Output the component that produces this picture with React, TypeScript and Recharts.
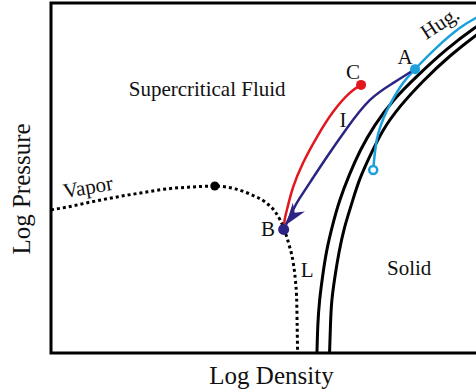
import React from 'react';
import { LineChart, Line, XAxis, YAxis, ReferenceArea, ReferenceDot } from 'recharts';

// readings, in arbitrary log units (0..10 on both axes)
const solidInner: [number, number][] = [
  [5.91, 0], [5.93, 0.8], [5.97, 1.51], [6.04, 2.23], [6.13, 2.94], [6.26, 3.66],
  [6.42, 4.37], [6.63, 5.09], [6.88, 5.8], [7.2, 6.51], [7.62, 7.23], [8.16, 7.94],
  [8.78, 8.66], [9.42, 9.29], [9.98, 9.77],
];
const solidOuter: [number, number][] = [
  [6.19, 0], [6.21, 0.78], [6.24, 1.48], [6.31, 2.18], [6.4, 2.87], [6.52, 3.57],
  [6.68, 4.26], [6.86, 4.96], [7.1, 5.66], [7.38, 6.36], [7.77, 7.06], [8.28, 7.78],
  [8.88, 8.5], [9.51, 9.14], [9.98, 9.57],
];
const hugoniot: [number, number][] = [
  [7.16, 5.23], [7.18, 5.51], [7.24, 6.09], [7.33, 6.51], [7.47, 6.94], [7.76, 7.6],
  [8.09, 8.11], [8.58, 8.74], [9.09, 9.29], [9.44, 9.57], [9.87, 9.86],
];
const pathBC: [number, number][] = [
  [5.16, 3.51], [5.2, 3.86], [5.27, 4.23], [5.38, 4.74], [5.6, 5.43], [5.91, 6.17],
  [6.27, 6.89], [6.64, 7.43], [6.89, 7.66],
];
const isentropeI: [number, number][] = [
  [5.22, 3.66], [5.38, 4.09], [5.53, 4.43], [5.82, 5.0], [6.13, 5.6], [6.58, 6.43],
  [7.09, 7.23], [7.6, 7.71], [8.09, 8.11],
];
const coexistence: [number, number][] = [
  [0, 4.09], [0.36, 4.17], [0.87, 4.31], [1.47, 4.46], [1.98, 4.57], [2.58, 4.69],
  [3.09, 4.74], [3.64, 4.77], [4.09, 4.69], [4.42, 4.54], [4.76, 4.31], [5.0, 4.0],
  [5.18, 3.54], [5.29, 3.09], [5.38, 2.6], [5.43, 2.09], [5.46, 1.51], [5.47, 0.8],
  [5.48, 0],
];

const pointA = { x: 8.09, y: 8.11 };
const pointB = { x: 5.17, y: 3.53 };
const pointC = { x: 6.89, y: 7.66 };
const criticalPoint = { x: 3.64, y: 4.77 };
const hugStart = { x: 7.16, y: 5.23 };

const labels = [
  { text: 'Supercritical Fluid', x: 3.47, y: 7.54 },
  { text: 'Vapor', x: 0.82, y: 4.74 },
  { text: 'C', x: 6.71, y: 8.03 },
  { text: 'A', x: 7.87, y: 8.46 },
  { text: 'I', x: 6.49, y: 6.66 },
  { text: 'Hug.', x: 8.64, y: 9.43 },
  { text: 'B', x: 4.82, y: 3.54 },
  { text: 'L', x: 5.69, y: 2.37 },
  { text: 'Solid', x: 7.96, y: 2.43 },
];
const labelAngle: Record<string, number> = { Vapor: -10, 'Hug.': -33 };

const toPoints = (pairs: [number, number][]) => pairs.map(([x, y]) => ({ x, y }));

const FONT = '"Liberation Serif", "Times New Roman", serif';
const RED = '#e3161d';
const PURPLE = '#2c2483';
const BLUE = '#1aa0dc';

// arrow head at the B end of the I path
const arrowDot = (props: any) => {
  const { cx, cy, index } = props;
  if (index !== 0) return <g key={index} />;
  return (
    <path
      key={index}
      d='M0,0 L-22,-7.5 L-15,0 L-22,7.5 Z'
      fill={PURPLE}
      transform={`translate(${cx},${cy}) rotate(126)`}
    />
  );
};

const textShape = (text: string) => (props: any) => {
  const angle = labelAngle[text] || 0;
  return (
    <text
      x={props.cx}
      y={props.cy}
      textAnchor='middle'
      dominantBaseline='central'
      fontFamily={FONT}
      fontSize={21}
      fill='#111'
      transform={angle ? `rotate(${angle}, ${props.cx}, ${props.cy})` : undefined}>
      {text}
    </text>
  );
};

export default function App() {
  return (
    <div style={{ position: 'absolute', left: 0, top: 0, width: 476, height: 392, overflow: 'hidden', background: '#fff' }}>
      <LineChart width={520} height={392} margin={{ top: 3, right: 19, left: 0, bottom: 0 }}>
        <XAxis
          dataKey='x'
          type='number'
          domain={[0, 10]}
          tick={false}
          axisLine={false}
          tickLine={false}
          height={39}
          label={(p: any) => (
            <text
              x={p.viewBox.x + p.viewBox.width / 2 - 4.5}
              y={p.viewBox.y + 22}
              textAnchor='middle'
              dominantBaseline='central'
              fontFamily={FONT}
              fontSize={25}
              fill='#111'>
              Log Density
            </text>
          )}
        />
        <YAxis
          type='number'
          domain={[0, 10]}
          tick={false}
          axisLine={false}
          tickLine={false}
          width={51}
          label={(p: any) => (
            <text
              x={p.viewBox.x + 21}
              y={p.viewBox.y + 186}
              textAnchor='middle'
              dominantBaseline='central'
              fontFamily={FONT}
              fontSize={25}
              fill='#111'
              transform={`rotate(-90, ${p.viewBox.x + 21}, ${p.viewBox.y + 186})`}>
              Log Pressure
            </text>
          )}
        />
        <ReferenceArea x1={0} x2={10} y1={0} y2={10} fill='none' stroke='#000' strokeWidth={3} />

        <Line data={toPoints(coexistence)} dataKey='y' type='monotone' stroke='#000' strokeWidth={3} strokeDasharray='3 3' dot={false} isAnimationActive={false} />
        <Line data={toPoints(solidInner)} dataKey='y' type='natural' stroke='#000' strokeWidth={3} dot={false} isAnimationActive={false} />
        <Line data={toPoints(solidOuter)} dataKey='y' type='natural' stroke='#000' strokeWidth={3} dot={false} isAnimationActive={false} />
        <Line data={toPoints(hugoniot)} dataKey='y' type='natural' stroke={BLUE} strokeWidth={2.5} dot={false} isAnimationActive={false} />
        <Line data={toPoints(pathBC)} dataKey='y' type='natural' stroke={RED} strokeWidth={2.5} dot={false} isAnimationActive={false} />
        <Line data={toPoints(isentropeI)} dataKey='y' type='natural' stroke={PURPLE} strokeWidth={2.5} dot={arrowDot} isAnimationActive={false} />

        <ReferenceDot x={criticalPoint.x} y={criticalPoint.y} r={4.5} fill='#000' stroke='none' />
        <ReferenceDot x={hugStart.x} y={hugStart.y} r={4} fill='#fff' stroke={BLUE} strokeWidth={2.5} />
        <ReferenceDot x={pointA.x} y={pointA.y} r={5} fill={BLUE} stroke='none' />
        <ReferenceDot x={pointC.x} y={pointC.y} r={5} fill={RED} stroke='none' />
        <ReferenceDot x={pointB.x} y={pointB.y} r={5.5} fill={PURPLE} stroke='none' />

        {labels.map((l) => (
          <ReferenceDot key={l.text} x={l.x} y={l.y} r={0} shape={textShape(l.text)} />
        ))}
      </LineChart>
    </div>
  );
}
